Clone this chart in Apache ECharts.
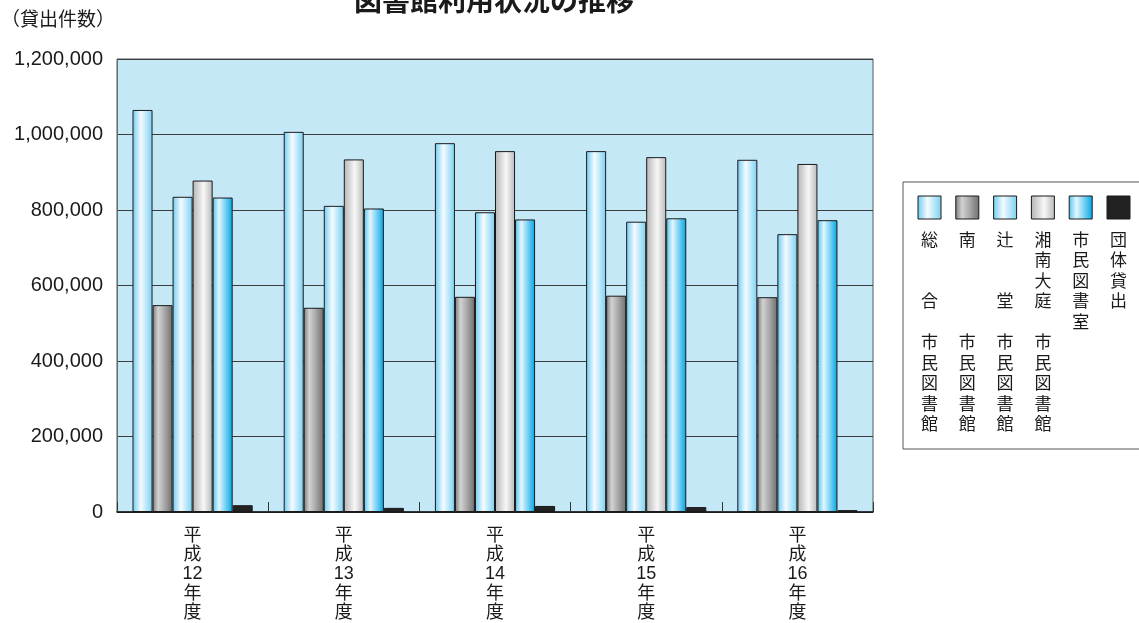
<!DOCTYPE html>
<html>
<head>
<meta charset="utf-8">
<script src="https://cdn.jsdelivr.net/npm/echarts@6/dist/echarts.min.js"></script>
<style>
  html, body { margin: 0; padding: 0; background: #ffffff; }
  #chart { width: 1139px; height: 623px; }
</style>
</head>
<body>
<div id="chart"></div>
<script>
// Fiscal years (Heisei era)
const categories = ['平成12年度', '平成13年度', '平成14年度', '平成15年度', '平成16年度'];

// Loans per library (件)
const sogo = [1065000, 1007000, 977000, 956000, 933000];        // 総合市民図書館
const minami = [548000, 541000, 570000, 573000, 569000];        // 南市民図書館
const tsujido = [835000, 811000, 794000, 769000, 736000];       // 辻堂市民図書館
const shonanOba = [878000, 934000, 956000, 940000, 922000];     // 湘南大庭市民図書館
const shiminShitsu = [833000, 804000, 775000, 778000, 773000];  // 市民図書室
const dantai = [18000, 11000, 16000, 13000, 5000];              // 団体貸出

const seriesNames = ['総合市民図書館', '南市民図書館', '辻堂市民図書館', '湘南大庭市民図書館', '市民図書室', '団体貸出'];
// Legend captions, one character per line (blank lines keep the columns aligned)
const legendColumns = [
  ['総', '', '', '合', '', '市', '民', '図', '書', '館'],
  ['南', '', '', '', '', '市', '民', '図', '書', '館'],
  ['辻', '', '', '堂', '', '市', '民', '図', '書', '館'],
  ['湘', '南', '大', '庭', '', '市', '民', '図', '書', '館'],
  ['市', '民', '図', '書', '室'],
  ['団', '体', '貸', '出']
];

const yTicks = { min: 0, max: 1200000, interval: 200000 };
const titleText = '図書館利用状況の推移';
const yUnitText = '（貸出件数）';

// Cylinder-like horizontal shading for each series
const shading = [
  [[0, '#6ccbf1'], [0.42, '#f4fbff'], [1, '#79d0f2']],
  [[0, '#7a7a7a'], [0.28, '#d2d2d2'], [0.6, '#a8a8a8'], [1, '#6e6e6e']],
  [[0, '#6ccbf1'], [0.42, '#f4fbff'], [1, '#79d0f2']],
  [[0, '#b4b4b4'], [0.55, '#f7f7f7'], [1, '#b8b8b8']],
  [[0, '#52c4ef'], [0.32, '#e2f6fe'], [1, '#00a6e6']],
  [[0, '#222222'], [1, '#222222']]
];
const fill = i => new echarts.graphic.LinearGradient(0, 0, 1, 0,
  shading[i].map(s => ({ offset: s[0], color: s[1] })));

const seriesData = [sogo, minami, tsujido, shonanOba, shiminShitsu, dantai];

const cjk = '"Liberation Sans", "Noto Sans CJK JP", sans-serif';

const chart = echarts.init(document.getElementById('chart'));

const legendGraphics = [];
legendGraphics.push({
  type: 'rect',
  shape: { x: 903, y: 182, width: 260, height: 267 },
  style: { fill: '#ffffff', stroke: '#555555', lineWidth: 1 },
  z: 10
});
seriesNames.forEach((name, i) => {
  const x0 = 918 + i * 37.8;
  legendGraphics.push({
    type: 'rect',
    shape: { x: x0, y: 196, width: 23, height: 23 },
    style: { fill: fill(i), stroke: '#1a1a1a', lineWidth: 1 },
    z: 11
  });
  legendGraphics.push({
    type: 'text',
    x: x0 + 11.5,
    y: 229,
    style: {
      text: legendColumns[i].join('\n'),
      font: '17px "Noto Sans CJK JP", sans-serif',
      lineHeight: 20.5,
      fill: '#1a1a1a',
      align: 'center',
      verticalAlign: 'top'
    },
    z: 11
  });
});

chart.setOption({
  animation: false,
  backgroundColor: '#ffffff',
  grid: {
    left: 117, right: 266, top: 59, bottom: 111,
    show: true,
    backgroundColor: '#c5e8f7',
    borderColor: '#4d5a60',
    borderWidth: 1
  },
  graphic: [
    {
      type: 'text',
      x: 494,
      y: 14,
      style: {
        text: titleText,
        font: 'bold 28px "Noto Sans CJK JP", sans-serif',
        fill: '#1a1a1a',
        align: 'center',
        verticalAlign: 'bottom'
      }
    },
    {
      type: 'text',
      x: 1,
      y: 9,
      style: {
        text: yUnitText,
        font: '19px "Noto Sans CJK JP", sans-serif',
        fill: '#1a1a1a',
        align: 'left',
        verticalAlign: 'top'
      }
    }
  ].concat(legendGraphics),
  xAxis: {
    type: 'category',
    data: categories,
    boundaryGap: true,
    axisLine: { show: true, lineStyle: { color: '#111111', width: 1.5 } },
    axisTick: { show: true, inside: true, length: 10, lineStyle: { color: '#333333', width: 1 } },
    axisLabel: {
      interval: 0,
      margin: 14,
      color: '#1a1a1a',
      fontSize: 18,
      lineHeight: 19.4,
      fontFamily: cjk,
      formatter: v => v.match(/\d+|./g).join('\n')
    },
    splitLine: { show: false }
  },
  yAxis: {
    type: 'value',
    min: yTicks.min,
    max: yTicks.max,
    interval: yTicks.interval,
    axisLine: { show: true, lineStyle: { color: '#6a6a6a', width: 1 } },
    axisTick: { show: false },
    axisLabel: {
      margin: 14,
      color: '#1a1a1a',
      fontSize: 20,
      fontFamily: '"Liberation Sans", Arial, sans-serif',
      formatter: v => v.toLocaleString('en-US')
    },
    splitLine: { show: true, lineStyle: { color: '#3c3c3c', width: 1.2 } }
  },
  series: seriesNames.map((name, i) => ({
    name: name,
    type: 'bar',
    data: seriesData[i],
    barGap: '0%',
    barCategoryGap: '20.5%',
    itemStyle: {
      color: fill(i),
      borderColor: '#1a1a1a',
      borderWidth: 1
    }
  }))
});
</script>
</body>
</html>
